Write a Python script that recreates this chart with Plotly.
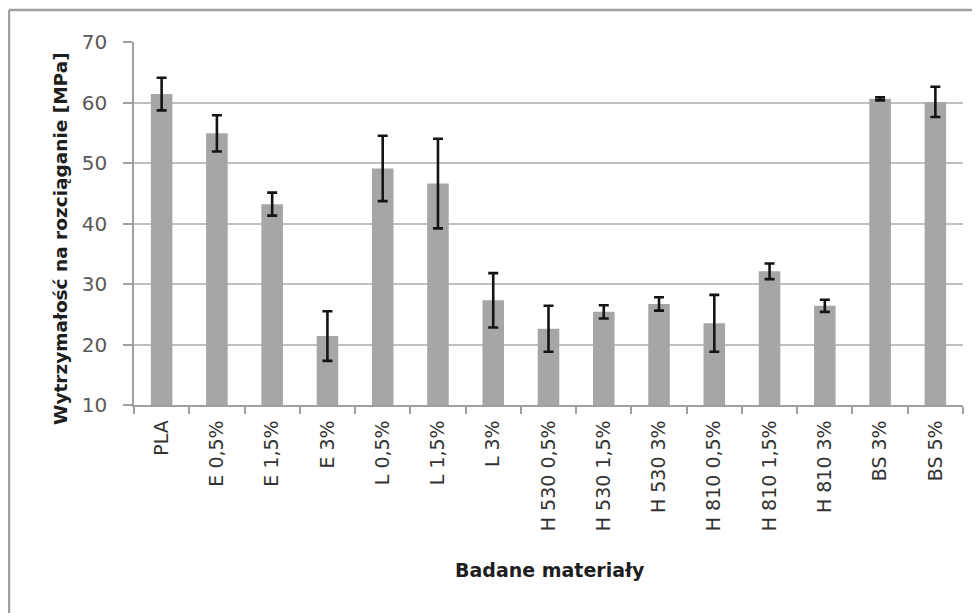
import plotly.graph_objects as go

categories = ["PLA", "E 0,5%", "E 1,5%", "E 3%", "L 0,5%", "L 1,5%", "L 3%",
              "H 530 0,5%", "H 530 1,5%", "H 530 3%", "H 810 0,5%", "H 810 1,5%",
              "H 810 3%", "BS 3%", "BS 5%"]
values = [61.4, 54.9, 43.2, 21.4, 49.1, 46.6, 27.3, 22.6, 25.4, 26.7, 23.5, 32.1, 26.4, 60.6, 60.1]
errors = [2.7, 3.0, 1.9, 4.1, 5.4, 7.4, 4.5, 3.8, 1.1, 1.1, 4.7, 1.3, 1.0, 0.25, 2.5]
y_ticks = [10, 20, 30, 40, 50, 60, 70]
y_title = "Wytrzymałość na rozciąganie [MPa]"
x_title = "Badane materiały"

fig = go.Figure()
fig.add_trace(go.Bar(
    x=categories, y=values,
    marker=dict(color="#a6a6a6", line=dict(width=0)),
    error_y=dict(type="data", array=errors, visible=True, color="#141414",
                 thickness=2.6, width=5),
    width=0.39,
))

font_family = "DejaVu Sans, sans-serif"
fig.update_layout(
    width=980, height=613,
    margin=dict(l=126, r=25, t=34, b=216),
    paper_bgcolor="white", plot_bgcolor="white",
    showlegend=False,
    font=dict(family=font_family, color="#404040"),
    xaxis=dict(
        type="category",
        tickangle=-90,
        tickfont=dict(size=19, color="#333333"),
        showline=True, linecolor="#a0a0a0", linewidth=1.5,
        ticks="outside", ticklen=7, tickcolor="#a0a0a0", tickwidth=1.5,
        tickson="boundaries",
        ticklabelstandoff=6,
        showgrid=False,
    ),
    yaxis=dict(
        range=[10, 70],
        tickvals=y_ticks,
        tickfont=dict(size=20, color="#595959"),
        showline=True, linecolor="#a0a0a0", linewidth=1.5,
        ticks="outside", ticklen=9, tickcolor="#a0a0a0", tickwidth=1.5,
        ticklabelstandoff=12,
        showgrid=True, gridcolor="#c0c0c0", gridwidth=1.5,
        zeroline=False,
    ),
    annotations=[
        dict(text="<b>" + y_title + "</b>", xref="paper", yref="paper",
             x=-0.0893, y=0.46, textangle=-90, showarrow=False,
             xanchor="center", yanchor="middle",
             font=dict(family=font_family, size=18.5, color="#1e1e1e")),
        dict(text="<b>" + x_title + "</b>", xref="paper", yref="paper",
             x=0.502, y=-0.4545, showarrow=False,
             xanchor="center", yanchor="middle",
             font=dict(family=font_family, size=19, color="#1e1e1e")),
    ],
    shapes=[
        dict(type="line", xref="paper", yref="paper", x0=-0.1508, x1=1.05,
             y0=1.088, y1=1.088, line=dict(color="#a0a0a0", width=2.5)),
        dict(type="line", xref="paper", yref="paper", x0=-0.1508, x1=-0.1508,
             y0=1.088, y1=-0.6, line=dict(color="#a0a0a0", width=2.5)),
    ],
)

fig.write_html("out.html")
